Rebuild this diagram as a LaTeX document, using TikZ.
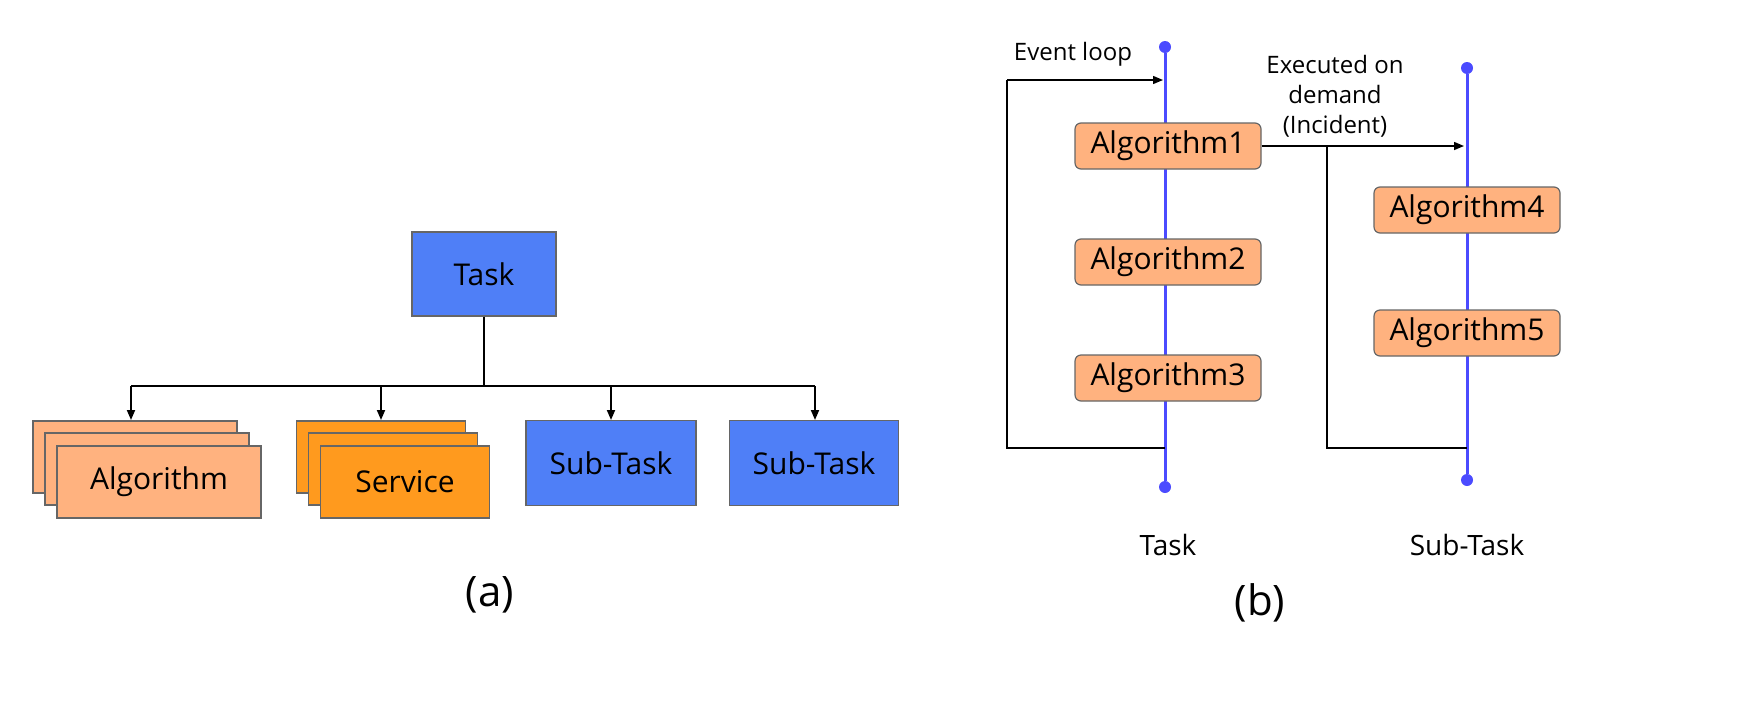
\documentclass[tikz,border=0pt]{standalone}
\usepackage{fontspec}
\setmainfont{Open Sans}
\usetikzlibrary{arrows.meta}
\definecolor{tblue}{HTML}{4F7FF7}
\definecolor{lorange}{HTML}{FFB27F}
\definecolor{dorange}{HTML}{FF9A1E}
\definecolor{lineblue}{HTML}{4B4BFF}
\begin{document}
\begin{tikzpicture}[x=0.5pt,y=-0.5pt,
  box/.style={draw=black!60,line width=0.6pt,inner sep=0pt,font=\fontsize{15}{18}\selectfont},
  alg/.style={box,fill=lorange,rounded corners=3pt,minimum width=93pt,minimum height=23pt},
  arr/.style={-{Triangle[length=5pt,width=4pt]},line width=0.9pt},
  thin/.style={line width=0.7pt},
  dot/.style={circle,fill=lineblue,inner sep=0pt,minimum size=6pt},
  lbl/.style={font=\fontsize{12}{14}\selectfont,align=center}]
\useasboundingbox (0,0) rectangle (1750,718);
% (a)
\node[box,fill=tblue,minimum width=72pt,minimum height=42pt] (task) at (484,274) {Task};
\coordinate (j) at (484,386);
\foreach \n/\x in {c1/131,c2/381,c3/611,c4/815}{\coordinate (\n) at (\x,386);}
\draw[line width=0.9pt] (task.south) -- (j);
\draw[line width=0.9pt] (c1) -- (c4);
\foreach \n/\x/\l in {c1/131/a1,c2/381/a2,c3/611/a3,c4/815/a4}{\coordinate (\l) at (\x,420); \draw[arr] (\n) -- (\l);}
\foreach \d in {0,12}{
 \node[box,fill=lorange,minimum width=102pt,minimum height=36pt] at (135+\d,457+\d) {};
 \node[box,fill=dorange,minimum width=84.5pt,minimum height=36pt] at (381+\d,457+\d) {};}
\node[box,fill=lorange,minimum width=102pt,minimum height=36pt] (alg) at (159,482) {Algorithm};
\node[box,fill=dorange,minimum width=84.5pt,minimum height=36pt] (srv) at (405,482) {Service};
\node[box,fill=tblue,minimum width=85pt,minimum height=42.5pt] (st1) at (611,463) {Sub-Task};
\node[box,fill=tblue,minimum width=84.5pt,minimum height=42.5pt] (st2) at (814,463) {Sub-Task};
\node[font=\fontsize{21}{24}\selectfont] (la) at (490,595) {(a)};
% (b)
\node[dot] (t0) at (1165,47) {};
\node[dot] (t1) at (1165,487) {};
\node[dot] (s0) at (1467,68) {};
\node[dot] (s1) at (1467,480) {};
\draw[lineblue,line width=1.5pt] (t0) -- (t1);
\draw[lineblue,line width=1.5pt] (s0) -- (s1);
\node[alg] (A1) at (1168,146) {Algorithm1};
\node[alg] (A2) at (1168,262) {Algorithm2};
\node[alg] (A3) at (1168,378) {Algorithm3};
\node[alg] (A4) at (1467,210) {Algorithm4};
\node[alg] (A5) at (1467,333) {Algorithm5};
\coordinate (e0) at (1165,448); \coordinate (e1) at (1007,448);
\coordinate (e2) at (1007,80); \coordinate (e3) at (1163,80);
\draw[thin] (e0) -- (e1) -- (e2);
\draw[arr,thin] (e2) -- (e3);
\node[lbl] (el) at (1073,54) {Event loop};
\coordinate (x1) at (1464,146);
\draw[arr,thin] (A1.east) -- (x1);
\coordinate (d0) at (1327,146); \coordinate (d1) at (1327,448); \coordinate (d2) at (1467,448);
\draw[thin] (d0) -- (d1) -- (d2);
\node[lbl,font=\fontsize{12}{15}\selectfont] (ex) at (1335,96) {Executed on\\demand\\(Incident)};
\node[lbl,font=\fontsize{14}{16}\selectfont] (tl) at (1168,545) {Task};
\node[lbl,font=\fontsize{14}{16}\selectfont] (sl) at (1467,545) {Sub-Task};
\node[font=\fontsize{21}{24}\selectfont] (lb) at (1260,603) {(b)};
\end{tikzpicture}
\end{document}
